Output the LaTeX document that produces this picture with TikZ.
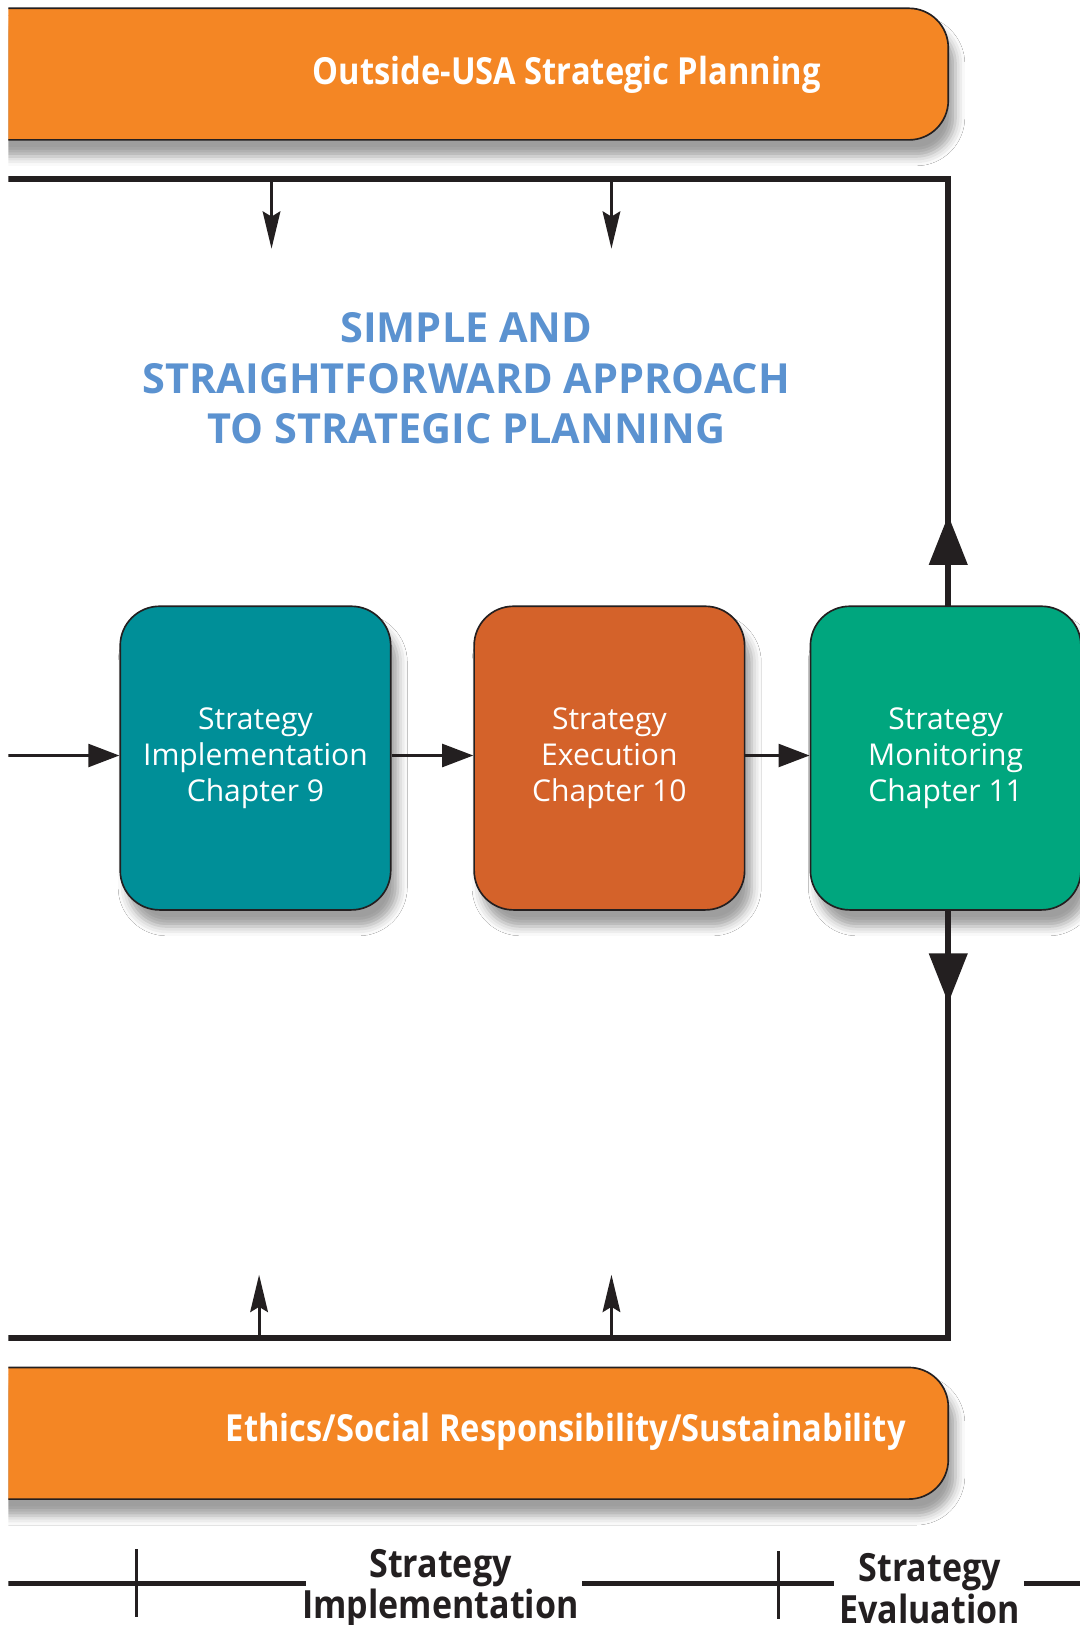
\documentclass[tikz,border=0pt]{standalone}
\usepackage{fontspec}
\setmainfont{Open Sans}
\newfontfamily\condfont[FakeStretch=0.875]{Open Sans}
\usetikzlibrary{arrows.meta,shadows.blur}

\definecolor{barorange}{RGB}{244,134,36}
\definecolor{tealbox}{RGB}{0,143,152}
\definecolor{rustbox}{RGB}{212,98,42}
\definecolor{greenbox}{RGB}{0,166,126}
\definecolor{titleblue}{RGB}{91,146,208}
\definecolor{ink}{RGB}{35,31,32}

\begin{document}
\begin{tikzpicture}[x=1pt,y=-1pt,
  softshadow/.style={blur shadow={shadow xshift=7pt,shadow yshift=-16pt,shadow blur radius=9pt,shadow opacity=38}},
  chapbox/.style={draw=ink,line width=1.6pt,rounded corners=38pt,
    minimum width=261pt,minimum height=293pt,inner sep=0pt,
    text=white,align=center,font=\fontsize{29}{35}\selectfont,softshadow},
  barshape/.style={fill=barorange,draw=ink,line width=1.6pt,rounded corners=38pt,softshadow},
  bartext/.style={text=white,font=\condfont\bfseries\fontsize{36}{40}\selectfont},
  heavy/.style={draw=ink,line width=6pt},
  heavyhead/.style={heavy,-{Triangle[length=48pt,width=36pt]}},
  thinarrow/.style={draw=ink,line width=3pt,-{Stealth[length=36pt,width=17pt,inset=5pt]}},
  flowarrow/.style={draw=ink,line width=3pt,-{Triangle[length=30pt,width=22pt]}},
  timeline/.style={draw=ink,line width=4pt},
  tick/.style={draw=ink,line width=3pt},
  phase/.style={text=ink,align=center,font=\condfont\bfseries\fontsize{37.5}{40}\selectfont},
]
\useasboundingbox (0,0) rectangle (1042,1568);
\fill[white] (0,0) rectangle (1042,1568);
\clip (8,0) rectangle (1042,1568);

% top and bottom banners (left end runs past the page edge)
\node[barshape,minimum width=1000pt,minimum height=127pt] (topbar) at (415,71.5) {};
\node[bartext] (toptext) at (547,72) {Outside-USA Strategic Planning};
\node[barshape,minimum width=1000pt,minimum height=127pt] (botbar) at (415,1383) {};
\node[bartext] (bottext) at (546,1382) {Ethics/Social Responsibility/Sustainability};

% heading
\node[text=titleblue,align=center,font=\bfseries\fontsize{40}{49}\selectfont] (title) at (450,365)
  {SIMPLE AND\\STRAIGHTFORWARD APPROACH\\TO STRATEGIC PLANNING};

% chapter boxes
\node[chapbox,fill=tealbox] (c1) at (246.5,731.5) {Strategy\\Implementation\\Chapter 9};
\node[chapbox,fill=rustbox] (c2) at (588,731.5) {Strategy\\Execution\\Chapter 10};
\node[chapbox,fill=greenbox] (c3) at (912.5,731.5) {Strategy\\Monitoring\\Chapter 11};

% feedback frame
\coordinate (tl) at (8,173);
\coordinate (tr) at (915,173);
\coordinate (bl) at (8,1291);
\coordinate (br) at (915,1291);
\coordinate (uptip) at (915,497);
\coordinate (downtip) at (915,968);
\coordinate (c3top) at (915,585);
\coordinate (c3bot) at (915,878);
\draw[heavy,line join=miter] (c3top) -- (tr) -- (tl);
\draw[heavy,line join=miter] (c3bot) -- (br) -- (bl);
\draw[heavyhead] (c3top) -- (uptip);
\draw[heavyhead] (c3bot) -- (downtip);

% arrows from the frame
\coordinate (d1) at (262,173); \coordinate (d1tip) at (262,240);
\coordinate (d2) at (590,173); \coordinate (d2tip) at (590,240);
\coordinate (u1) at (250,1291); \coordinate (u1tip) at (250,1230);
\coordinate (u2) at (590,1291); \coordinate (u2tip) at (590,1230);
\draw[thinarrow] (d1) -- (d1tip);
\draw[thinarrow] (d2) -- (d2tip);
\draw[thinarrow] (u1) -- (u1tip);
\draw[thinarrow] (u2) -- (u2tip);

% process flow
\coordinate (in) at (8,729);
\draw[flowarrow] (in) -- (c1.west |- in);
\draw[flowarrow] (c1.east |- in) -- (c2.west |- in);
\draw[flowarrow] (c2.east |- in) -- (c3.west |- in);

% phase timeline
\node[phase] (impl) at (425,1533) {Strategy\\Implementation};
\node[phase] (eval) at (897,1533) {Strategy\\Evaluation};
\coordinate (t0) at (8,1528); \coordinate (t1) at (295,1528);
\coordinate (t2) at (562,1528); \coordinate (t3) at (805,1528);
\coordinate (t4) at (988,1528); \coordinate (t5) at (1042,1528);
\draw[timeline] (t0) -- (t1);
\draw[timeline] (t2) -- (t3);
\draw[timeline] (t4) -- (t5);
\coordinate (k1a) at (132,1495); \coordinate (k1b) at (132,1560);
\coordinate (k2a) at (751,1497); \coordinate (k2b) at (751,1562);
\draw[tick] (k1a) -- (k1b);
\draw[tick] (k2a) -- (k2b);
\end{tikzpicture}
\end{document}
